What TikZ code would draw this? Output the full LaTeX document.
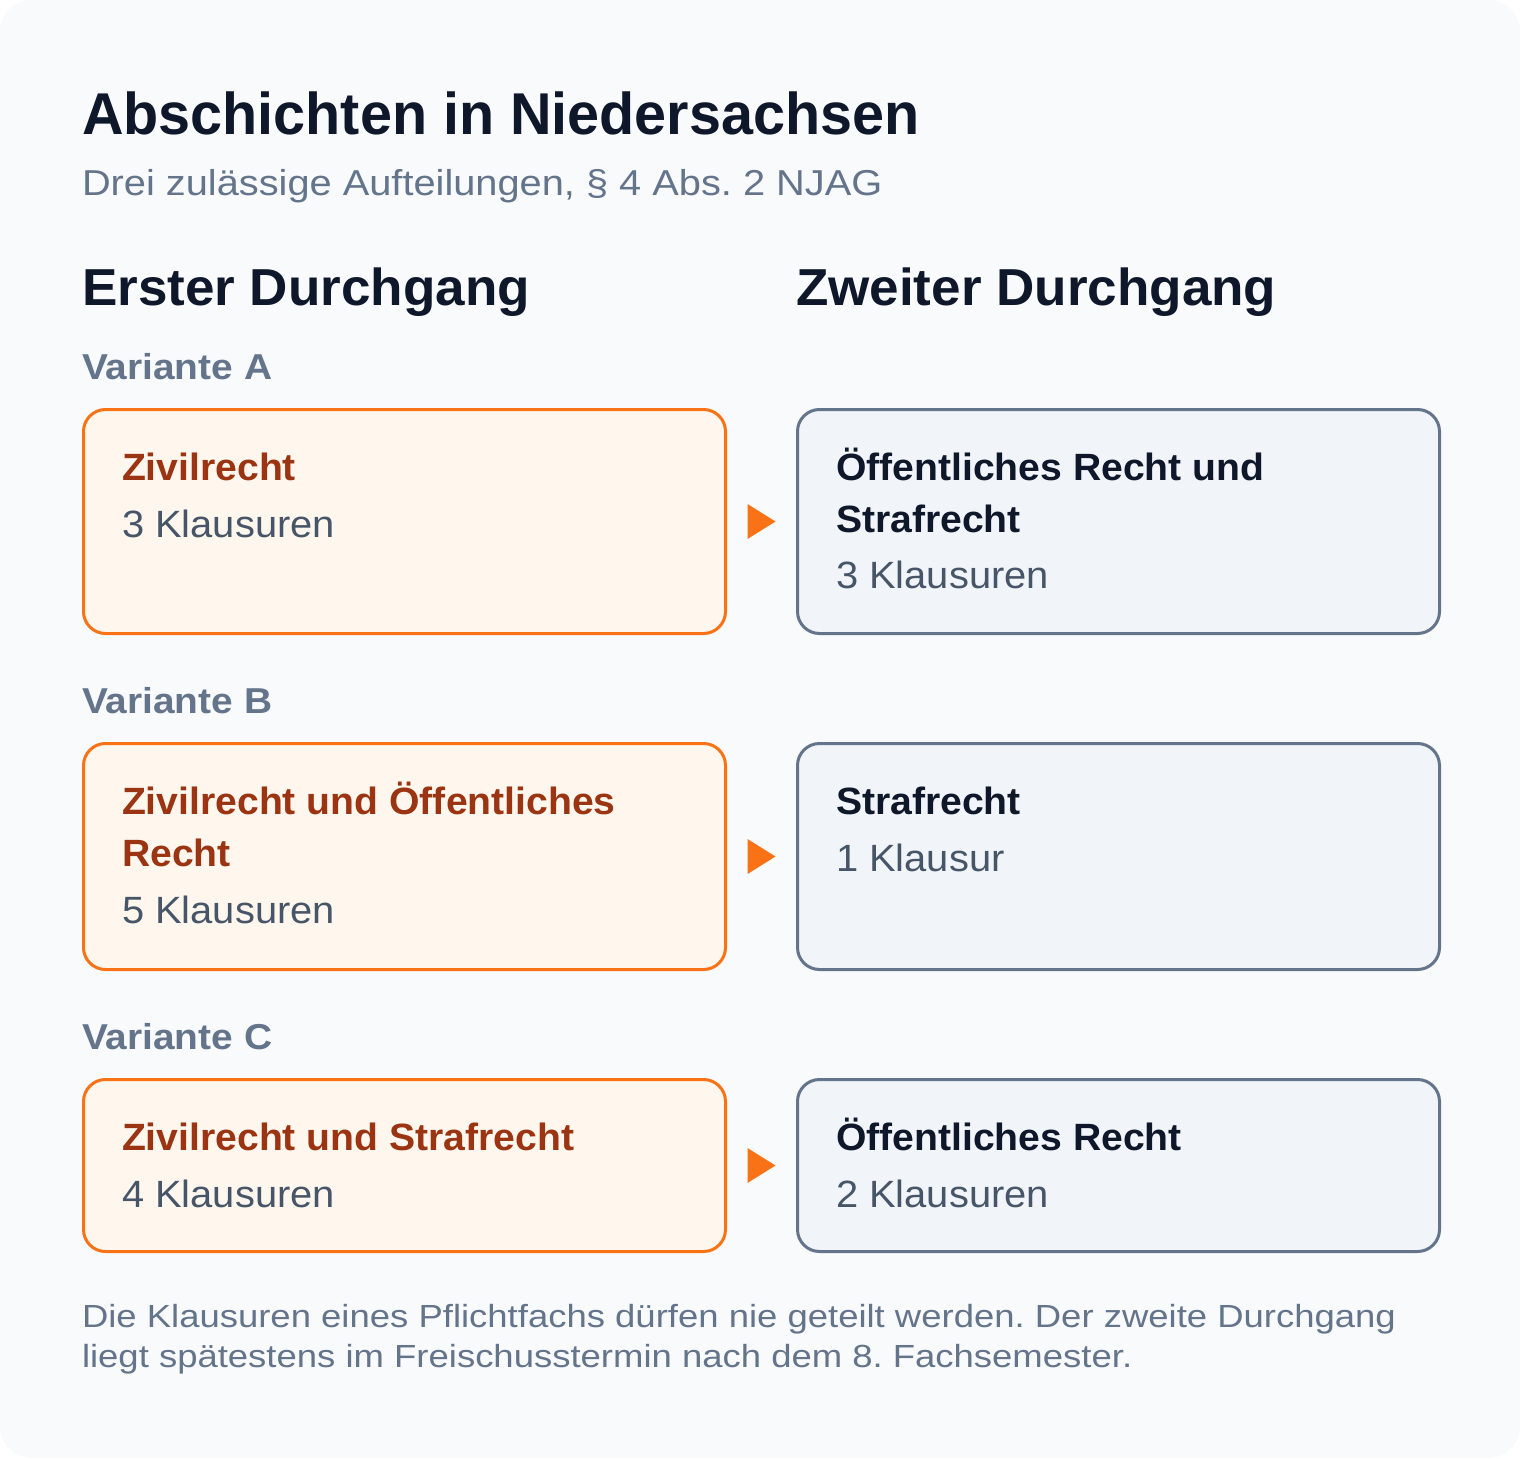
\documentclass[tikz,border=0pt]{standalone}
\usepackage{fontspec}
\setmainfont{Liberation Sans}
\frenchspacing
\usetikzlibrary{positioning}
\usetikzlibrary{calc}
\definecolor{pagebg}{HTML}{F8FAFC}
\definecolor{ink}{HTML}{0F172A}
\definecolor{muted}{HTML}{64748B}
\definecolor{bodytext}{HTML}{475569}
\definecolor{accent}{HTML}{F97316}
\definecolor{accentbg}{HTML}{FFF7ED}
\definecolor{accentdark}{HTML}{9A3412}
\definecolor{slatebg}{HTML}{F1F5F9}

\begin{document}
\begin{tikzpicture}[x=1pt, y=-1pt,
  txt/.style = {anchor=base west, inner sep=0pt, outer sep=0pt},
  heading/.style = {txt, text=ink, font=\bfseries\fontsize{52}{60}\selectfont\addfontfeatures{FakeStretch=1.02}},
  variant/.style = {txt, text=muted, font=\bfseries\fontsize{36}{42}\selectfont\addfontfeatures{FakeStretch=1.08}},
  box/.style = {anchor=north west, line width=3pt, rounded corners=22pt, minimum width=642pt, inner sep=0pt},
  first/.style = {box, draw=accent, fill=accentbg},
  second/.style = {box, draw=muted, fill=slatebg},
  boxtitle/.style = {txt, font=\bfseries\fontsize{38}{52}\selectfont\addfontfeatures{FakeStretch=1.03}},
  firsttitle/.style = {boxtitle, text=accentdark},
  secondtitle/.style = {boxtitle, text=ink},
  count/.style = {txt, text=bodytext, font=\fontsize{38}{52}\selectfont\addfontfeatures{FakeStretch=1.05}},
  note/.style = {txt, text=muted, font=\fontsize{32}{40}\selectfont\addfontfeatures{FakeStretch=1.14}},
  tip/.style = {fill=accent}]
  \useasboundingbox (0,0) rectangle (1520,1458);
  \fill[white] (0,0) rectangle (1520,1458);
  \fill[pagebg, rounded corners=32pt] (0,0) rectangle (1520,1458);

  % header
  \node[txt, text=ink, font=\bfseries\fontsize{59}{68}\selectfont\addfontfeatures{FakeStretch=0.975}] (title) at (82,135) {Abschichten in Niedersachsen};
  \node[txt, text=muted, font=\fontsize{36}{42}\selectfont\addfontfeatures{FakeStretch=1.105}] (subtitle) at (82,196) {Drei zulässige Aufteilungen, § 4 Abs. 2 NJAG};
  \node[heading] (h1) at (82,305) {Erster Durchgang};
  \node[heading] (h2) at (796,305) {Zweiter Durchgang};

  % Variante A
  \node[variant] (va) at (82,379) {Variante A};
  \node[first, minimum height=224pt] (a1) at (82,408) {};
  \node[second, minimum height=224pt] (a2) at (796,408) {};
  \node[firsttitle] (a1t) at ($(a1.north west)+(40,72)$) {Zivilrecht};
  \node[count] (a1c) at ($(a1.north west)+(40,129)$) {3 Klausuren};
  \node[secondtitle] (a2t) at ($(a2.north west)+(40,72)$) {Öffentliches Recht und};
  \node[secondtitle] (a2u) at ($(a2.north west)+(40,124)$) {Strafrecht};
  \node[count] (a2c) at ($(a2.north west)+(40,180)$) {3 Klausuren};

  % Variante B
  \node[variant] (vb) at (82,713) {Variante B};
  \node[first, minimum height=226pt] (b1) at (82,742) {};
  \node[second, minimum height=226pt] (b2) at (796,742) {};
  \node[firsttitle] (b1t) at ($(b1.north west)+(40,72)$) {Zivilrecht und Öffentliches};
  \node[firsttitle] (b1u) at ($(b1.north west)+(40,124)$) {Recht};
  \node[count] (b1c) at ($(b1.north west)+(40,181)$) {5 Klausuren};
  \node[secondtitle] (b2t) at ($(b2.north west)+(40,72)$) {Strafrecht};
  \node[count] (b2c) at ($(b2.north west)+(40,129)$) {1 Klausur};

  % Variante C
  \node[variant] (vc) at (82,1049) {Variante C};
  \node[first, minimum height=172pt] (c1) at (82,1078) {};
  \node[second, minimum height=172pt] (c2) at (796,1078) {};
  \node[firsttitle] (c1t) at ($(c1.north west)+(40,72)$) {Zivilrecht und Strafrecht};
  \node[count] (c1c) at ($(c1.north west)+(40,129)$) {4 Klausuren};
  \node[secondtitle] (c2t) at ($(c2.north west)+(40,72)$) {Öffentliches Recht};
  \node[count] (c2c) at ($(c2.north west)+(40,129)$) {2 Klausuren};

  % arrows between the two passes
  \foreach \r in {a,b,c} {
    \coordinate (m\r) at ($(\r1.east)!0.5!(\r2.west)$);
    \fill[tip] ($(m\r)+(-14,-17.5)$) -- ($(m\r)+(14,0)$) -- ($(m\r)+(-14,17.5)$) -- cycle;
  }

  % footer
  \node[note] (f1) at (82,1327) {Die Klausuren eines Pflichtfachs dürfen nie geteilt werden. Der zweite Durchgang};
  \node[note] (f2) at (82,1367) {liegt spätestens im Freischusstermin nach dem 8. Fachsemester.};
\end{tikzpicture}
\end{document}
